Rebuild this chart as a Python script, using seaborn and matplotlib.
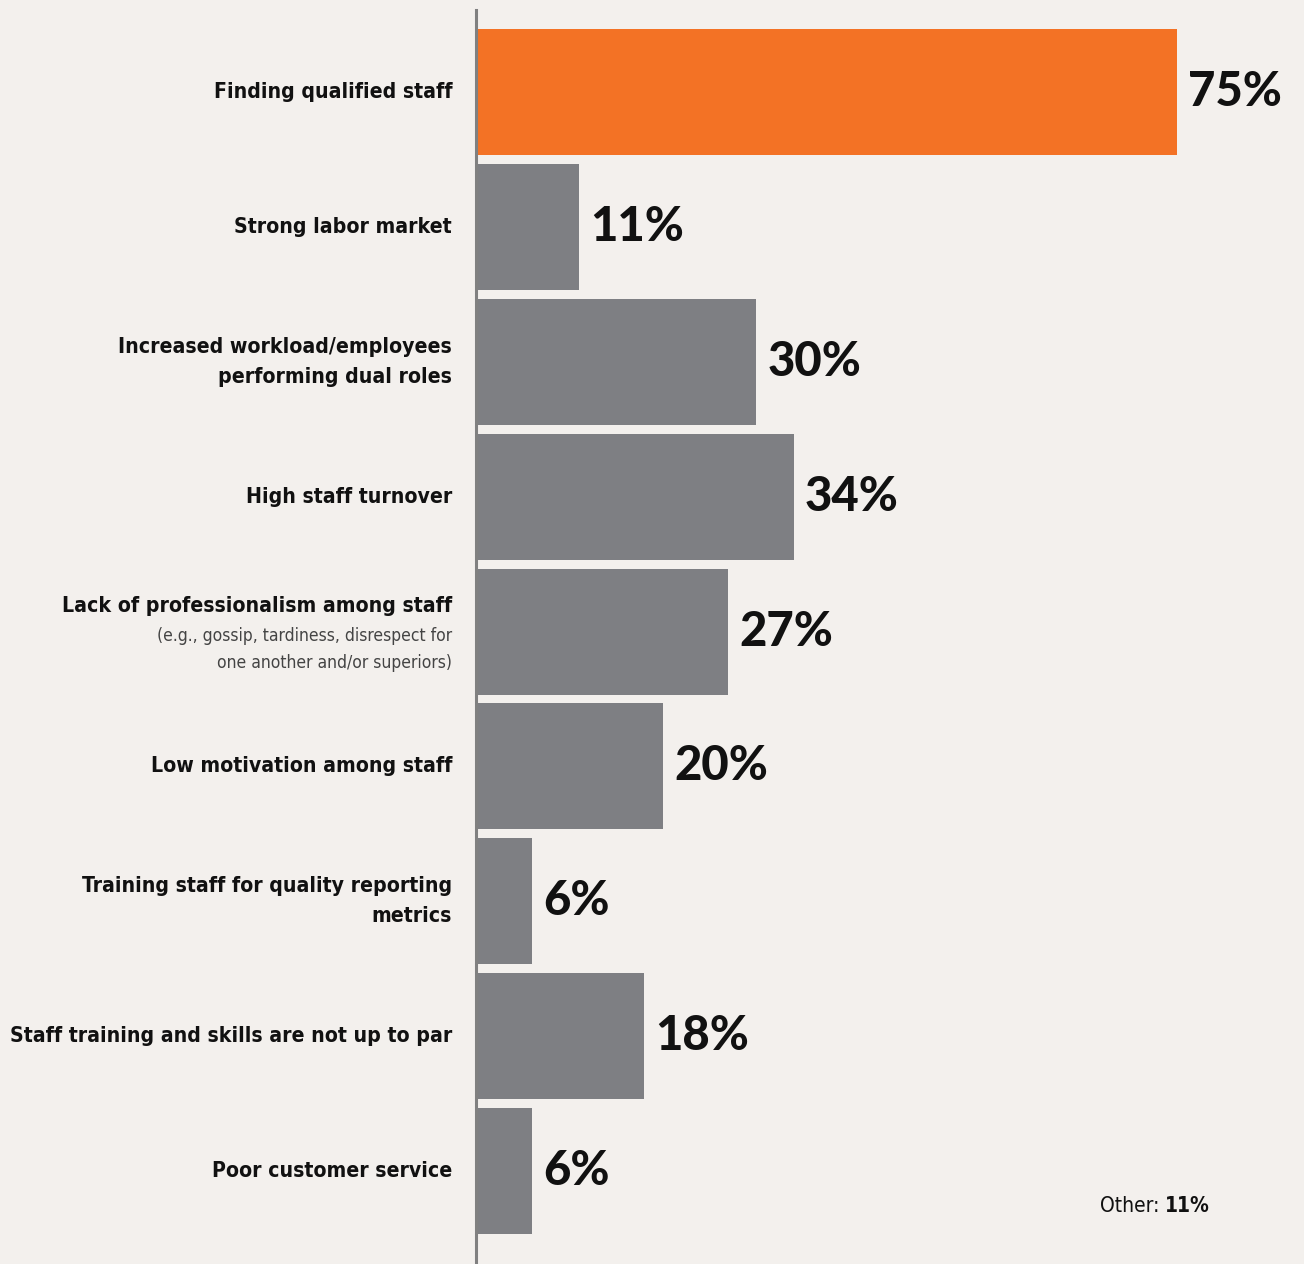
import numpy as np
import pandas as pd
import seaborn as sns
import matplotlib.pyplot as plt
from matplotlib import transforms

# data
categories = [
    "Finding qualified staff",
    "Strong labor market",
    "Increased workload/employees\nperforming dual roles",
    "High staff turnover",
    "Lack of professionalism among staff",
    "Low motivation among staff",
    "Training staff for quality reporting\nmetrics",
    "Staff training and skills are not up to par",
    "Poor customer service",
]
values = [75, 11, 30, 34, 27, 20, 6, 18, 6]
subnote = "(e.g., gossip, tardiness, disrespect for\none another and/or superiors)"
other_value = 11

bg = "#F3F0ED"
orange = "#F37225"
grey = "#7E7F83"

sns.set_theme(style="white")
plt.rcParams["font.family"] = ["DejaVu Sans"]
plt.rcParams["font.stretch"] = "condensed"

df = pd.DataFrame({"cat": categories, "val": values})
colors = {c: (orange if i == 0 else grey) for i, c in enumerate(categories)}

fig = plt.figure(figsize=(13.04, 12.64), dpi=100, facecolor=bg)
ax = fig.add_axes([476 / 1304, 0, 1 - 476 / 1304, 1 - 10 / 1264])
ax.set_facecolor(bg)

sns.barplot(data=df, y="cat", x="val", hue="cat", palette=colors,
            orient="h", width=0.934, legend=False, ax=ax, saturation=1,
            linewidth=0)

ax.set_xlim(0, 88.6)
ax.set_ylim(8.69, -0.61)
ax.set_xlabel("")
ax.set_ylabel("")
ax.set_xticks([])
ax.set_yticks([])
for s in ["top", "right", "bottom"]:
    ax.spines[s].set_visible(False)
ax.spines["left"].set_color("#808080")
ax.spines["left"].set_linewidth(2.2)

# value labels
for cont in ax.containers:
    ax.bar_label(cont, fmt="%d%%", padding=8, fontsize=34,
                 family=["Lato", "DejaVu Sans"], fontweight="black",
                 fontstretch="normal", color="#111111")

# category labels, right aligned left of the axis line
trans = transforms.blended_transform_factory(fig.transFigure, ax.transData)
px = 1 / 134.9
lab = dict(transform=trans, ha="right", color="#111111")
for i, c in enumerate(categories):
    if i == 4:
        ax.text(452 / 1304, i - 26 * px, c, va="center", fontsize=15.2,
                fontweight="bold", **lab)
        ax.text(452 / 1304, i + 18 * px, subnote, va="center", fontsize=12.5,
                linespacing=1.6, **{**lab, "color": "#444444"})
    else:
        ax.text(452 / 1304, i, c, va="center", fontsize=15.2,
                fontweight="bold", linespacing=1.6, **lab)

# "Other" note
fig.text(1165 / 1304, 1 - 1206 / 1264, "Other: ", ha="right", va="center",
         fontsize=15, color="#111111")
fig.text(1165 / 1304, 1 - 1206 / 1264, f"{other_value}%", ha="left",
         va="center", fontsize=15, fontweight="bold", color="#111111")

fig.savefig("out.png", dpi=100, facecolor=bg)
